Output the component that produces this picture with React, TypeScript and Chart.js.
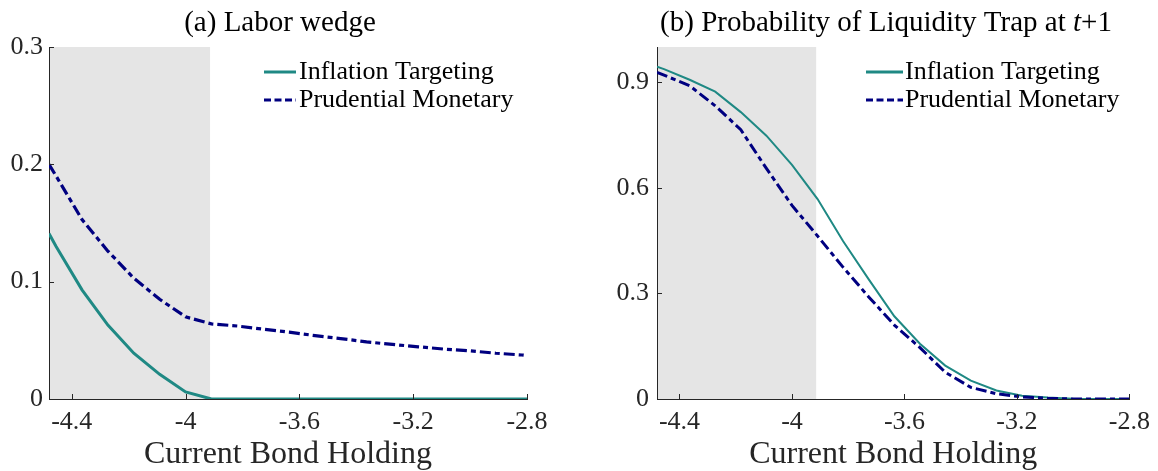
import React, { useEffect, useRef } from 'react';
import { Chart, registerables } from 'chart.js';

Chart.register(...registerables);

// ---------- data ----------
const bondHolding = [-4.48, -4.455, -4.364, -4.273, -4.182, -4.091, -4.0, -3.909, -3.818, -3.727, -3.636, -3.545, -3.455, -3.364, -3.273, -3.182, -3.091, -3.0, -2.909, -2.818, -2.8];
const wedgeInflation = [0.141, 0.13, 0.093, 0.063, 0.039, 0.021, 0.006, 0, 0, 0, 0, 0, 0, 0, 0, 0, 0, 0, 0, 0, 0];
const wedgePrudential = [0.2, 0.19, 0.153, 0.126, 0.103, 0.085, 0.07, 0.064, 0.0622, 0.0595, 0.057, 0.054, 0.0515, 0.0487, 0.0465, 0.0445, 0.0425, 0.041, 0.039, 0.0375, 0.037];
const trapInflation = [0.944, 0.937, 0.907, 0.873, 0.815, 0.748, 0.665, 0.568, 0.448, 0.34, 0.235, 0.157, 0.095, 0.052, 0.024, 0.009, 0.004, 0.001, 0, 0, 0];
const trapPrudential = [0.928, 0.92, 0.89, 0.833, 0.765, 0.655, 0.55, 0.463, 0.374, 0.29, 0.21, 0.146, 0.076, 0.033, 0.015, 0.006, 0.002, 0, 0, 0, 0];

const xTicks = [-4.4, -4, -3.6, -3.2, -2.8];
const wedgeTicks = [0, 0.1, 0.2, 0.3];
const trapTicks = [0, 0.3, 0.6, 0.9];
const xMin = -4.48;
const xMax = -2.8;
const wedgeMax = 0.3;
const trapMax = 1.0;
const shadeEnd = -3.914;

const seriesLabels = ['Inflation Targeting', 'Prudential Monetary'];
const xTitle = 'Current Bond Holding';
const titleA = [{ text: '(a) Labor wedge' }];
const titleB = [{ text: '(b) Probability of Liquidity Trap at ' }, { text: 't', italic: true }, { text: '+1' }];

// ---------- styles ----------
const FONT = '"Liberation Serif", "DejaVu Serif", serif';
const TEAL = '#1f8984';
const NAVY = '#000080';
const AXIS = '#262626';
const TEXT = '#262626';
const SHADE = '#e5e5e5';

type Seg = { text: string; italic?: boolean };

interface Geom {
  left: number;
  yWidth: number;
  padRight: number;
  yPad: number;
  solidWidth: number;
  dashWidth: number;
  titleX: number;
  legendLine: [number, number];
  legendText: number;
  legendFont: number;
}

function Panel(props: {
  yTicks: number[];
  yMax: number;
  inflation: number[];
  prudential: number[];
  title: Seg[];
  geom: Geom;
}) {
  const ref = useRef<HTMLCanvasElement>(null);
  useEffect(() => {
    const { yTicks, yMax, inflation, prudential, title, geom } = props;
    const decor = {
      id: 'decor',
      beforeDraw(chart: any) {
        const { ctx, chartArea: ca, scales } = chart;
        const xe = scales.x.getPixelForValue(shadeEnd);
        ctx.save();
        ctx.fillStyle = SHADE;
        ctx.fillRect(ca.left, ca.top, xe - ca.left, ca.bottom - ca.top);
        ctx.restore();
      },
      afterDraw(chart: any) {
        const { ctx, chartArea: ca, scales } = chart;
        ctx.save();
        // inward ticks
        ctx.strokeStyle = AXIS;
        ctx.lineWidth = 1;
        ctx.beginPath();
        xTicks.forEach((v) => {
          const px = Math.round(scales.x.getPixelForValue(v)) + 0.5;
          ctx.moveTo(px, ca.bottom);
          ctx.lineTo(px, ca.bottom - 5);
        });
        yTicks.forEach((v) => {
          const py = Math.round(scales.y.getPixelForValue(v)) + 0.5;
          ctx.moveTo(ca.left, py);
          ctx.lineTo(ca.left + 5, py);
        });
        ctx.stroke();

        // title
        ctx.fillStyle = '#000';
        ctx.textBaseline = 'alphabetic';
        ctx.textAlign = 'left';
        const fontFor = (s: Seg) => `${s.italic ? 'italic ' : ''}29px ${FONT}`;
        let total = 0;
        title.forEach((s) => {
          ctx.font = fontFor(s);
          total += ctx.measureText(s.text).width;
        });
        let tx = geom.titleX - total / 2;
        title.forEach((s) => {
          ctx.font = fontFor(s);
          ctx.fillText(s.text, tx, 31);
          tx += ctx.measureText(s.text).width;
        });

        // legend
        const rows = [72, 100];
        chart.data.datasets.forEach((ds: any, i: number) => {
          const y = rows[i];
          ctx.strokeStyle = ds.borderColor;
          ctx.lineWidth = 3;
          ctx.setLineDash(i === 0 ? [] : [7, 3.5]);
          ctx.beginPath();
          ctx.moveTo(geom.legendLine[0], y);
          ctx.lineTo(geom.legendLine[1], y);
          ctx.stroke();
          ctx.setLineDash([]);
          ctx.fillStyle = '#000';
          ctx.font = `${geom.legendFont}px ${FONT}`;
          ctx.textBaseline = 'middle';
          ctx.fillText(ds.label, geom.legendText, y);
        });
        ctx.restore();
      },
    };

    const chart = new Chart(ref.current as HTMLCanvasElement, {
      type: 'line',
      data: {
        datasets: [
          {
            label: seriesLabels[0],
            data: bondHolding.map((x, i) => ({ x, y: inflation[i] })),
            borderColor: TEAL,
            borderWidth: geom.solidWidth,
            pointRadius: 0,
            fill: false,
            tension: 0,
            order: 1,
          },
          {
            label: seriesLabels[1],
            data: bondHolding.map((x, i) => ({ x, y: prudential[i] })),
            borderColor: NAVY,
            borderWidth: geom.dashWidth,
            borderDash: [11, 4, 5, 4],
            pointRadius: 0,
            fill: false,
            tension: 0,
            order: 0,
          },
        ],
      },
      options: {
        animation: false,
        responsive: true,
        maintainAspectRatio: false,
        events: [],
        layout: { padding: { left: 0, top: 47, right: geom.padRight, bottom: 0 } },
        plugins: {
          legend: { display: false },
          tooltip: { enabled: false },
          title: { display: false },
        },
        scales: {
          x: {
            type: 'linear',
            min: xMin,
            max: xMax,
            afterBuildTicks: (s: any) => {
              s.ticks = xTicks.map((v) => ({ value: v }));
            },
            afterFit: (s: any) => {
              s.height = 72;
            },
            grid: { display: false, drawTicks: false },
            border: { display: true, color: AXIS, width: 1 },
            ticks: {
              padding: 8,
              autoSkip: false,
              maxRotation: 0,
              color: TEXT,
              font: { family: FONT, size: 26 },
              callback: (v: any) => String(v),
            },
            title: {
              display: true,
              text: xTitle,
              color: TEXT,
              font: { family: FONT, size: 32 },
              padding: { top: 0, bottom: -3 },
            },
          },
          y: {
            type: 'linear',
            min: 0,
            max: yMax,
            afterBuildTicks: (s: any) => {
              s.ticks = yTicks.map((v) => ({ value: v }));
            },
            afterFit: (s: any) => {
              s.width = geom.yWidth;
            },
            grid: { display: false, drawTicks: false },
            border: { display: true, color: AXIS, width: 1 },
            ticks: {
              padding: geom.yPad,
              autoSkip: false,
              color: TEXT,
              font: { family: FONT, size: 26 },
              callback: (v: any) => String(v),
            },
          },
        },
      },
      plugins: [decor],
    } as any);
    return () => chart.destroy();
  }, []);

  return (
    <div style={{ position: 'absolute', left: props.geom.left, top: 0, width: 579, height: 471 }}>
      <canvas ref={ref} />
    </div>
  );
}

export default function App() {
  return (
    <div style={{ position: 'absolute', left: 0, top: 0, width: 1158, height: 471, background: '#fff' }}>
      <Panel
        yTicks={wedgeTicks}
        yMax={wedgeMax}
        inflation={wedgeInflation}
        prudential={wedgePrudential}
        title={titleA}
        geom={{
          left: 0,
          yWidth: 49,
          padRight: 52,
          yPad: 6,
          solidWidth: 3,
          dashWidth: 3.2,
          titleX: 280,
          legendLine: [264, 296],
          legendText: 299,
          legendFont: 26,
        }}
      />
      <Panel
        yTicks={trapTicks}
        yMax={trapMax}
        inflation={trapInflation}
        prudential={trapPrudential}
        title={titleB}
        geom={{
          left: 579,
          yWidth: 78,
          padRight: 24,
          yPad: 8,
          solidWidth: 2,
          dashWidth: 3,
          titleX: 307,
          legendLine: [287, 324],
          legendText: 326,
          legendFont: 26,
        }}
      />
    </div>
  );
}
